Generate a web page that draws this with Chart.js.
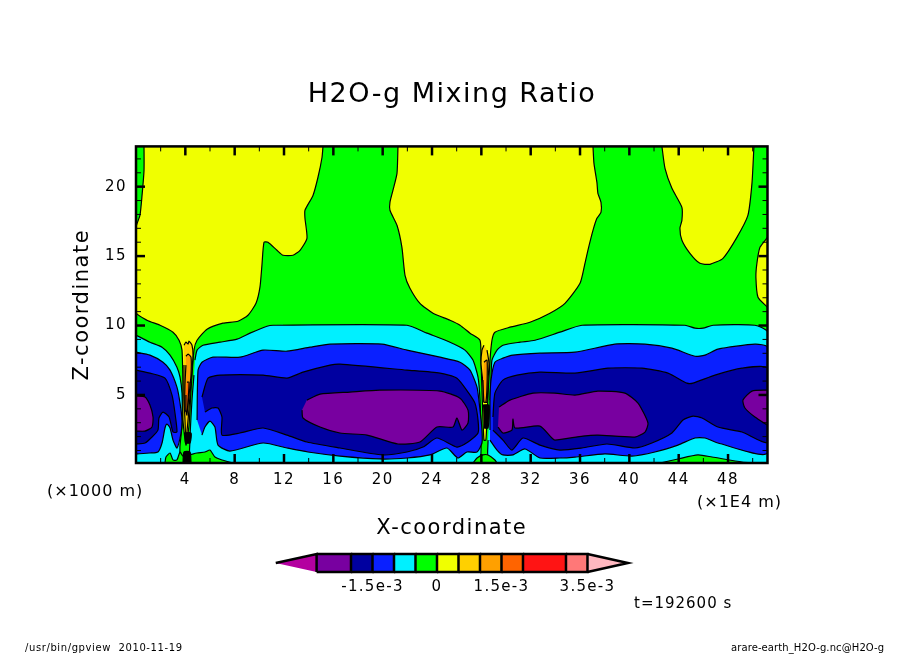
<!DOCTYPE html>
<html>
<head>
<meta charset="utf-8">
<title>H2O-g Mixing Ratio</title>
<script src="https://cdn.jsdelivr.net/npm/chart.js@4"></script>
<style>
  html, body { margin: 0; background: #fff; }
  #page { position: relative; width: 904px; height: 654px; overflow: hidden; font-family: "DejaVu Sans", sans-serif; color: #000; }
  canvas { position: absolute; }
  #contourChart { left: 0; top: 0; }
  #barChart { left: 260px; top: 545px; }
  .note { position: absolute; white-space: pre; letter-spacing: 1px; }
  #unitZ { left: 47px; top: 481px; font-size: 16px; }
  #unitX { left: 697px; top: 492px; font-size: 16px; }
  #timeNote { left: 634px; top: 594px; font-size: 15px; }
  #footL { left: 25px; top: 642px; font-size: 10px; letter-spacing: .6px; }
  #footR { left: 731px; top: 642px; font-size: 10px; letter-spacing: .1px; }
</style>
</head>
<body>
<div id="page">
  <canvas id="contourChart" width="904" height="654"></canvas>
  <canvas id="barChart" width="380" height="55"></canvas>
  <div class="note" id="unitZ"></div>
  <div class="note" id="unitX"></div>
  <div class="note" id="timeNote"></div>
  <div class="note" id="footL"></div>
  <div class="note" id="footR"></div>
</div>
<script>
// texts
const chartTitle = 'H2O-g Mixing Ratio';
const xTitle = 'X-coordinate';
const zTitle = 'Z-coordinate';
const unitZText = '(×1000 m)';
const unitXText = '(×1E4 m)';
const timeText = 't=192600 s';
const footLeft = '/usr/bin/gpview  2010-11-19';
const footRight = 'arare-earth_H2O-g.nc@H2O-g';

// axes
const xRange = [0, 51.2];
const zRange = [0.1, 22.9];
const xMajor = [4, 8, 12, 16, 20, 24, 28, 32, 36, 40, 44, 48];
const xMinor = [2, 6, 10, 14, 18, 22, 26, 30, 34, 38, 42, 46, 50];
const zMajor = [5, 10, 15, 20];
const zMinor = [1, 2, 3, 4, 6, 7, 8, 9, 11, 12, 13, 14, 16, 17, 18, 19, 21, 22];

// colour bar, units of 1e-3
const barEdges = [-2.8, -2, -1.5, -1, -0.5, 0, 0.5, 1, 1.5, 2, 3, 3.5];
const barTips = [-3.75, 4.44];
const barTicks = [-1.5, 0, 1.5, 3.5];
const barLabels = ['-1.5e-3', '0', '1.5e-3', '3.5e-3'];

// contours as [x, z]
const yellowLeft = [[0.65,22.9],[0.65,21.17],[0.49,19.37],[0.32,17.93],[0,17.07],[0,10.96],[0.89,10.38],[1.95,10.02],[3.0,9.52],[3.49,8.94],[3.73,8.23],[3.81,5.35],[3.81,3.19],[4.05,1.39],[4.30,2.83],[4.46,5.35],[4.70,8.23],[4.95,8.94],[5.76,9.74],[7.05,10.17],[8.27,10.31],[9.08,10.74],[9.73,11.6],[10.05,12.76],[10.21,14.34],[10.38,16.0],[10.7,16.0],[11.43,15.42],[11.92,15.06],[12.73,15.06],[13.3,15.42],[13.86,16.28],[13.7,17.72],[13.7,18.3],[14.35,19.37],[14.75,20.66],[15.08,22.1],[15.16,22.9]];
const yellowMid = [[21.24,22.9],[21.16,20.96],[20.83,19.73],[20.59,18.87],[20.59,18.3],[21.16,17.22],[21.56,15.63],[21.81,13.62],[22.21,12.69],[23.02,11.6],[24.08,10.89],[25.46,10.38],[26.27,10.02],[27.08,9.45],[27.89,8.94],[27.97,7.51],[28.05,5.35],[28.21,1.75],[28.37,1.75],[28.54,4.99],[28.7,7.51],[28.86,8.94],[29.1,9.52],[30.32,9.88],[31.94,10.24],[33.56,10.89],[34.78,11.6],[36.0,13.04],[36.4,14.48],[36.64,15.42],[37.05,16.85],[37.37,17.72],[37.7,18.15],[37.7,18.87],[37.45,19.52],[37.37,20.31],[37.13,21.68],[37.05,22.9]];
const yellowRight = [[42.64,22.9],[42.89,21.32],[43.45,19.88],[44.26,18.51],[44.26,17.57],[44.1,17.0],[44.26,16.14],[44.91,15.2],[45.72,14.48],[46.53,14.41],[47.59,14.84],[48.72,16.35],[49.61,17.93],[49.94,20.24],[50.1,22.9]];
const yellowEdge = [[51.2,16.35],[50.59,15.63],[50.34,14.48],[50.26,13.48],[50.43,12.04],[51.2,11.32]];

const cyanLeft = [[0,9.31],[1.13,8.8],[2.11,8.44],[2.76,7.87],[3.32,7.0],[3.57,6.28],[3.73,5.13],[3.73,2.83],[3.57,1.39],[3.4,0.1],[0,0.1]];
const cyanMid = [[4.78,7.51],[4.95,8.23],[5.43,8.58],[6.81,8.8],[8.19,9.02],[9.24,9.45],[10.62,9.95],[11.11,10.02],[21.97,10.02],[23.59,9.45],[25.46,8.8],[26.67,8.23],[27.32,7.51],[27.73,6.28],[27.89,4.63],[27.97,1.75],[27.73,0.1],[4.54,0.1],[4.38,1.75],[4.54,4.63],[4.7,6.43]];
const cyanRight = [[28.7,4.63],[28.78,6.07],[28.86,7.51],[29.27,8.23],[29.75,8.58],[31.13,8.8],[32.35,8.94],[34.37,9.52],[36.16,10.02],[44.51,10.02],[45.32,9.81],[45.97,9.81],[46.78,10.02],[50.18,10.02],[51.2,9.52],[51.2,0.1],[28.7,0.1],[28.54,1.75]];

const blueLeft = [[0,8.08],[1.13,7.87],[2.19,7.36],[2.76,6.79],[3.32,5.56],[3.57,4.41],[3.73,3.19],[3.65,2.26],[3.32,1.18],[3.0,1.75],[2.76,2.62],[2.51,2.9],[2.35,2.62],[2.11,1.54],[1.78,0.89],[1.13,0.82],[0,0.75]];
const blueMid = [[4.95,3.19],[5.03,6.79],[5.35,7.36],[6.24,7.72],[8.43,7.72],[10.3,8.23],[12.24,8.15],[14.11,8.44],[15.73,8.66],[19.94,8.66],[21.97,8.23],[24.65,7.72],[26.27,7.36],[27.08,6.79],[27.65,5.56],[27.89,3.91],[28.05,2.47],[28.05,1.54],[27.65,0.89],[26.83,0.89],[26.1,0.46],[25.21,1.18],[23.83,0.68],[21.97,0.46],[19.78,0.39],[16.54,0.6],[13.94,0.89],[12.24,1.18],[10.3,1.54],[7.62,0.96],[6.65,1.39],[6.4,2.69],[6.0,3.12],[5.59,2.69],[5.35,2.11]];
const blueRight = [[28.7,2.47],[28.7,4.63],[28.78,6.07],[29.1,7.36],[29.75,7.65],[30.56,7.87],[32.75,8.01],[35.59,8.08],[38.83,8.66],[41.27,8.66],[43.45,8.37],[45.32,7.79],[46.13,7.87],[47.18,8.3],[50.18,8.66],[51.2,8.44],[51.2,0.82],[47.18,1.54],[46.13,1.9],[45.32,1.9],[43.94,1.39],[42.07,0.89],[40.21,0.6],[38.02,0.75],[35.59,0.53],[34.37,0.46],[32.75,0.46],[31.54,1.11],[30.56,0.68],[29.75,0.68],[29.27,1.03],[28.7,1.75]];

const navyLeft = [[0,6.79],[1.13,6.57],[2.35,6.21],[2.92,4.99],[3.16,3.7],[3.32,2.33],[3.0,2.33],[2.68,3.41],[2.19,3.77],[1.86,3.34],[1.78,2.47],[1.3,1.97],[0.73,1.54],[0,1.47]];
const navyMid = [[5.35,4.85],[5.84,6.21],[6.81,6.43],[10.3,6.43],[12.24,6.21],[13.54,6.64],[15.73,7.15],[16.54,7.22],[21.97,6.79],[24.65,6.57],[26.02,6.21],[26.92,5.21],[27.48,4.41],[27.73,3.19],[27.73,2.26],[26.92,1.61],[26.02,1.25],[24.4,1.9],[23.27,1.25],[21.97,0.89],[20.02,0.68],[16.54,1.18],[13.86,1.61],[12.24,2.11],[10.3,2.62],[8.43,2.26],[6.97,2.11],[6.97,3.41],[6.65,4.06],[6.16,4.06],[5.59,3.77]];
const navyRight = [[28.94,3.41],[29.1,5.13],[29.75,6.07],[30.89,6.43],[32.75,6.64],[35.59,6.57],[38.27,6.93],[41.02,6.93],[43.13,6.57],[44.67,5.85],[45.16,5.85],[46.94,6.43],[49.13,6.93],[51.2,6.93],[51.2,1.61],[49.13,2.33],[47.18,2.69],[45.89,3.34],[45.16,3.48],[44.35,3.19],[43.45,2.26],[41.83,1.54],[40.45,1.18],[38.18,1.47],[36.16,1.18],[34.37,1.03],[32.75,1.39],[31.37,1.9],[30.48,1.03],[29.75,1.75],[28.94,2.47]];

const purpleLeft = [[0,4.92],[0.73,4.85],[1.13,4.27],[1.38,3.41],[1.3,2.69],[0.73,2.4],[0,2.4]];
const purpleMid = [[13.86,4.63],[14.92,5.06],[17.35,5.21],[19.78,5.35],[24.65,5.28],[26.27,4.77],[26.92,3.91],[26.92,2.98],[26.43,2.47],[26.02,3.34],[25.7,2.69],[24.4,2.69],[23.02,1.61],[21.24,1.47],[18.73,2.11],[16.54,2.26],[14.92,2.69],[13.54,3.34],[13.46,3.91]];
const purpleRight = [[29.43,4.13],[30.32,4.63],[32.18,5.13],[33.97,5.13],[35.59,4.99],[37.45,5.28],[39.64,5.13],[40.7,4.41],[41.51,2.98],[41.27,2.33],[40.45,1.97],[37.45,2.11],[36.24,2.04],[33.97,1.75],[33.72,1.9],[32.75,2.76],[30.73,2.62],[30.56,3.26],[30.48,2.47],[29.75,2.26],[29.35,2.69]];
const purpleEdge = [[51.2,5.35],[49.94,5.28],[49.21,4.63],[49.37,4.06],[50.18,3.41],[51.2,2.83]];

const greenBaseLeft = [[2.35,0.1],[2.43,0.53],[2.76,0.82],[3.0,0.32],[3.32,0.32],[3.57,0.89],[3.81,0.6],[4.95,0.82],[5.59,0.89],[6.0,1.03],[6.4,0.53],[6.97,0.32],[7.86,0.1]];
const greenBaseMid = [[27.32,0.1],[27.65,0.46],[28.13,0.68],[28.54,0.68],[29.1,0.32],[29.27,0.1]];
const greenBaseRight = [[42.48,0.1],[43.94,0.39],[45.56,0.68],[46.7,0.53],[49.13,0.17],[50.18,0.1]];

const goldLeft = [[3.89,8.58],[4.05,8.8],[4.22,8.66],[4.3,8.87],[4.54,8.58],[4.62,7.87],[4.54,6.79],[4.38,4.99],[4.22,3.19],[4.05,1.75],[3.97,3.19],[3.89,4.99],[3.89,7.15]];
const orangeLeft = [[4.05,7.79],[4.22,7.94],[4.46,7.72],[4.46,6.43],[4.3,4.99],[4.13,3.77],[3.97,3.91],[3.97,5.71],[4.05,7.15]];
const emberLeft = [[4.13,5.92],[4.3,5.92],[4.22,4.63],[4.13,3.55],[4.05,3.91],[4.05,4.99]];
const crushLeftMid = [[3.89,2.26],[4.46,2.26],[4.38,1.54],[3.97,1.54]];
const crushLeftBase = [[3.81,0.1],[3.89,0.89],[4.38,0.89],[4.46,0.1]];
const goldMid = [[28.21,8.58],[28.05,8.23],[27.97,7.29],[28.13,5.85],[28.21,4.49],[28.46,4.49],[28.54,6.07],[28.62,7.29],[28.46,8.23]];
const orangeMid = [[28.21,7.36],[28.46,7.51],[28.46,5.71],[28.37,4.49],[28.21,4.49],[28.13,6.07]];
const crushMid = [[28.13,4.27],[28.62,4.27],[28.54,2.62],[28.21,2.62]];

const PURPLE = '#7800a0', NAVY = '#0000a0', BLUE = '#0a20ff', CYAN = '#00f0ff', GREEN = '#00ff00', YELLOW = '#f0ff00';
const GOLD = '#ffd000', ORANGE = '#ffa000', EMBER = '#ff6400';
const barColors = ['#b400a0', PURPLE, NAVY, BLUE, CYAN, GREEN, YELLOW, GOLD, ORANGE, EMBER, '#ff1414', '#ff7878', '#ffb8c0'];

// painted in this order, later layers cover earlier ones
const layers = [
  [yellowLeft, YELLOW], [yellowMid, YELLOW], [yellowRight, YELLOW], [yellowEdge, YELLOW],
  [cyanLeft, CYAN], [cyanMid, CYAN], [cyanRight, CYAN],
  [blueLeft, BLUE], [blueMid, BLUE], [blueRight, BLUE],
  [navyLeft, NAVY], [navyMid, NAVY], [navyRight, NAVY],
  [purpleLeft, PURPLE], [purpleMid, PURPLE], [purpleRight, PURPLE], [purpleEdge, PURPLE],
  [greenBaseLeft, GREEN], [greenBaseMid, GREEN], [greenBaseRight, GREEN],
  [goldLeft, GOLD], [orangeLeft, ORANGE], [emberLeft, EMBER], [crushLeftMid, '#000'], [crushLeftBase, '#000'],
  [goldMid, GOLD], [orangeMid, ORANGE], [crushMid, '#000'],
];

const toPoints = poly => poly.map(p => ({x: p[0], y: p[1]}));
const shape = (poly, color, width, tension) => ({
  data: toPoints(poly), showLine: true, fill: 'shape', tension, pointRadius: 0,
  borderColor: '#000', borderWidth: width, backgroundColor: color,
});

// green sits behind everything, filling the whole frame
const frameFill = [[xRange[0], zRange[0]], [xRange[1], zRange[0]], [xRange[1], zRange[1]], [xRange[0], zRange[1]]];
const datasets = [[frameFill, GREEN]].concat(layers).map((l, i) => ({...shape(l[0], l[1], 1.2, i === 0 ? 0 : 0.2), order: 100 - i}));

const spacing = px => ({ id: 'spacing', beforeDraw(chart) { chart.ctx.letterSpacing = px; } });

const frameTicks = {
  id: 'frameTicks',
  afterDraw(chart) {
    const {ctx, chartArea: a, scales: {x, y}} = chart;
    const tick = (p1, p2, q1, q2, w) => {
      ctx.lineWidth = w;
      ctx.beginPath(); ctx.moveTo(p1, p2); ctx.lineTo(q1, q2); ctx.stroke();
    };
    ctx.save();
    ctx.strokeStyle = '#000';
    xMajor.forEach(v => { const p = x.getPixelForValue(v); tick(p, a.bottom, p, a.bottom - 9, 2.5); tick(p, a.top, p, a.top + 9, 2.5); });
    xMinor.forEach(v => { const p = x.getPixelForValue(v); tick(p, a.bottom, p, a.bottom - 5, 1); tick(p, a.top, p, a.top + 5, 1); });
    zMajor.forEach(v => { const p = y.getPixelForValue(v); tick(a.left, p, a.left + 9, p, 2.5); tick(a.right, p, a.right - 9, p, 2.5); });
    zMinor.forEach(v => { const p = y.getPixelForValue(v); tick(a.left, p, a.left + 5, p, 1); tick(a.right, p, a.right - 5, p, 1); });
    ctx.lineWidth = 2.5;
    ctx.strokeRect(a.left, a.top, a.right - a.left, a.bottom - a.top);
    ctx.restore();
  }
};

Chart.defaults.font.family = '"DejaVu Sans", sans-serif';
Chart.defaults.color = '#000';

new Chart(document.getElementById('contourChart'), {
  type: 'scatter',
  data: {datasets},
  plugins: [spacing('1.5px'), frameTicks],
  options: {
    responsive: false,
    devicePixelRatio: 1,
    animation: false,
    events: [],
    layout: {autoPadding: false, padding: {left: 70, right: 70, bottom: 113, top: 0}},
    plugins: {
      legend: {display: false},
      tooltip: {enabled: false},
      title: {display: true, text: chartTitle, font: {size: 27, weight: 'normal'}, padding: {top: 79, bottom: 35}},
    },
    scales: {
      x: {
        type: 'linear', min: xRange[0], max: xRange[1],
        grid: {display: false, drawTicks: false}, border: {display: false},
        afterBuildTicks: s => { s.ticks = xMajor.map(value => ({value})); },
        afterFit: s => { s.height = 78; },
        ticks: {autoSkip: false, maxRotation: 0, padding: 8, font: {size: 15}},
        title: {display: true, text: xTitle, font: {size: 21}, padding: 0},
      },
      y: {
        type: 'linear', min: zRange[0], max: zRange[1],
        grid: {display: false, drawTicks: false}, border: {display: false},
        afterBuildTicks: s => { s.ticks = zMajor.map(value => ({value})); },
        afterFit: s => { s.width = 66; },
        ticks: {autoSkip: false, padding: 9, font: {size: 15}},
        title: {display: true, text: zTitle, font: {size: 21}, padding: 0},
      },
      // empty right axis keeps the title centred over the frame
      yRight: {
        type: 'linear', position: 'right', min: zRange[0], max: zRange[1],
        grid: {display: false, drawTicks: false}, border: {display: false},
        ticks: {display: false},
        afterFit: s => { s.width = 66.5; },
      },
    },
  },
});

// colour bar cells and end triangles
const barShapes = [[[barTips[0], 0.5], [barEdges[0], 1], [barEdges[0], 0]]];
for (let i = 0; i < barEdges.length - 1; i++) {
  const a = barEdges[i], b = barEdges[i + 1];
  barShapes.push([[a, 0], [b, 0], [b, 1], [a, 1]]);
}
barShapes.push([[barEdges[barEdges.length - 1], 0], [barTips[1], 0.5], [barEdges[barEdges.length - 1], 1]]);

new Chart(document.getElementById('barChart'), {
  type: 'scatter',
  data: {datasets: barShapes.map((s, i) => ({...shape(s, barColors[i], 2.5, 0), clip: false}))},
  plugins: [spacing('1.3px')],
  options: {
    responsive: false,
    devicePixelRatio: 1,
    animation: false,
    events: [],
    layout: {autoPadding: false, padding: {left: 15.75, right: 12.1, top: 9, bottom: 0}},
    plugins: {legend: {display: false}, tooltip: {enabled: false}},
    scales: {
      x: {
        type: 'linear', min: barTips[0], max: barTips[1],
        grid: {display: false, drawTicks: false}, border: {display: false},
        afterBuildTicks: s => { s.ticks = barTicks.map(value => ({value})); },
        afterFit: s => { s.height = 28; },
        ticks: {autoSkip: false, maxRotation: 0, padding: 6, font: {size: 15}, callback: v => barLabels[barTicks.indexOf(v)]},
      },
      y: {type: 'linear', min: 0, max: 1, display: false},
    },
  },
});

document.getElementById('unitZ').textContent = unitZText;
document.getElementById('unitX').textContent = unitXText;
document.getElementById('timeNote').textContent = timeText;
document.getElementById('footL').textContent = footLeft;
document.getElementById('footR').textContent = footRight;
</script>
</body>
</html>
